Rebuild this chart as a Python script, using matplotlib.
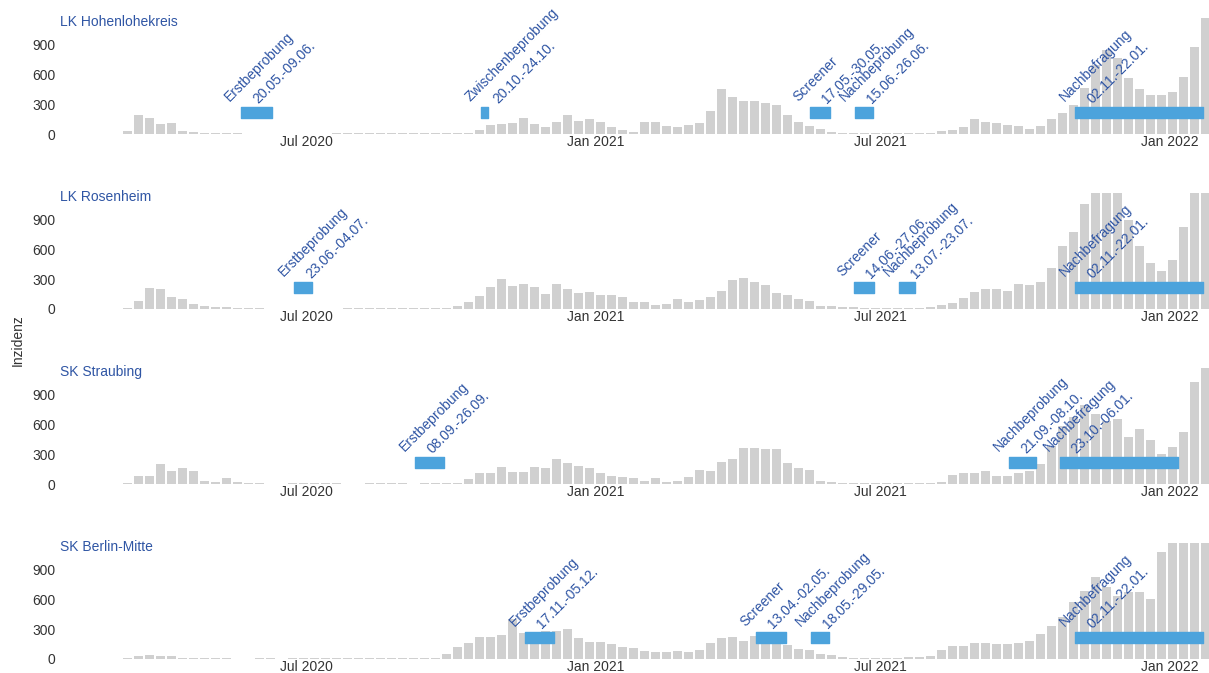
import matplotlib
matplotlib.use('Agg')
import matplotlib.pyplot as plt
import matplotlib.dates as mdates
import pandas as pd

plt.rcParams['font.family'] = ['Liberation Sans', 'DejaVu Sans']

# weekly incidence, one bar per week starting 09.03.2020
weeks = pd.date_range('2020-03-09', periods=99, freq='7D')

hohenlohe = [34, 194, 164, 102, 109, 27, 17, 8, 8, 8,
             6, 5, 4, 0, 0, 0, 0, 0, 0, 6,
             7, 7, 6, 6, 7, 8, 8, 8, 9, 8,
             10, 12, 44, 95, 102, 112, 164, 102, 68, 126,
             188, 136, 153, 119, 75, 41, 24, 126, 126, 85,
             75, 95, 112, 232, 450, 375, 330, 334, 317, 290,
             194, 119, 85, 51, 17, 9, 8, 7, 6, 8,
             9, 8, 8, 12, 27, 44, 68, 147, 119, 109,
             92, 78, 51, 85, 153, 215, 297, 467, 700, 843,
             767, 563, 454, 392, 392, 420, 573, 876, 1183]

rosenheim = [8, 84, 210, 205, 125, 100, 50, 34, 24, 17,
             10, 8, 6, 5, 0, 0, 0, 0, 0, 0,
             6, 7, 7, 6, 7, 8, 9, 8, 12, 15,
             34, 67, 135, 219, 303, 236, 253, 219, 152, 253,
             202, 162, 175, 145, 145, 118, 74, 67, 40, 50,
             101, 74, 91, 118, 185, 293, 313, 270, 243, 158,
             145, 101, 81, 34, 30, 24, 17, 10, 8, 8,
             7, 8, 10, 20, 40, 57, 111, 175, 202, 202,
             185, 253, 243, 270, 415, 640, 775, 1055, 1200, 1200,
             1200, 900, 640, 462, 380, 495, 825, 1200, 1200]

straubing = [8, 84, 84, 202, 135, 158, 135, 34, 24, 57,
             17, 8, 6, 0, 0, 6, 6, 6, 6, 6,
             0, 0, 7, 7, 6, 6, 0, 7, 7, 8,
             8, 50, 108, 108, 168, 118, 118, 168, 158, 253,
             209, 185, 158, 108, 78, 67, 61, 27, 61, 24,
             27, 74, 145, 135, 219, 253, 367, 360, 354, 354,
             212, 165, 145, 34, 24, 12, 8, 6, 6, 6,
             7, 8, 7, 12, 20, 94, 108, 111, 135, 78,
             78, 108, 135, 202, 388, 590, 674, 792, 708, 640,
             657, 472, 556, 448, 303, 370, 522, 1028, 1170]

berlin = [10, 30, 45, 35, 30, 15, 10, 8, 7, 7,
          0, 0, 7, 7, 0, 7, 7, 8, 7, 8,
          8, 8, 8, 8, 8, 9, 8, 8, 15, 50,
          118, 158, 226, 226, 243, 404, 260, 250, 280, 286,
          303, 212, 168, 168, 152, 125, 111, 84, 67, 74,
          84, 74, 91, 158, 209, 219, 178, 236, 202, 185,
          145, 101, 94, 50, 40, 24, 12, 12, 10, 12,
          14, 16, 16, 30, 94, 135, 135, 158, 158, 152,
          152, 158, 185, 253, 337, 421, 573, 690, 825, 725,
          640, 674, 674, 607, 1078, 1200, 1200, 1200, 1200]

districts = ['LK Hohenlohekreis', 'LK Rosenheim', 'SK Straubing', 'SK Berlin-Mitte']

# study phases: (name, start, end)
phases_hohenlohe = [('Erstbeprobung', '2020-05-20', '2020-06-09'),
                    ('Zwischenbeprobung', '2020-10-20', '2020-10-24'),
                    ('Screener', '2021-05-17', '2021-05-30'),
                    ('Nachbeprobung', '2021-06-15', '2021-06-26'),
                    ('Nachbefragung', '2021-11-02', '2022-01-22')]
phases_rosenheim = [('Erstbeprobung', '2020-06-23', '2020-07-04'),
                    ('Screener', '2021-06-14', '2021-06-27'),
                    ('Nachbeprobung', '2021-07-13', '2021-07-23'),
                    ('Nachbefragung', '2021-11-02', '2022-01-22')]
phases_straubing = [('Erstbeprobung', '2020-09-08', '2020-09-26'),
                    ('Nachbeprobung', '2021-09-21', '2021-10-08'),
                    ('Nachbefragung', '2021-10-23', '2022-01-06')]
phases_berlin = [('Erstbeprobung', '2020-11-17', '2020-12-05'),
                 ('Screener', '2021-04-13', '2021-05-02'),
                 ('Nachbeprobung', '2021-05-18', '2021-05-29'),
                 ('Nachbefragung', '2021-11-02', '2022-01-22')]

series = [hohenlohe, rosenheim, straubing, berlin]
phases = [phases_hohenlohe, phases_rosenheim, phases_straubing, phases_berlin]

bar_color = '#d0d0d0'
box_color = '#4ca3dc'
text_blue = '#2f55a4'
tick_color = '#333333'

W, H = 1209, 673
fig = plt.figure(figsize=(W / 100, H / 100), dpi=100)

for k in range(4):
    base = 134 + 175 * k
    ax = fig.add_axes([68 / W, 1 - base / H, (W - 68) / W, 116 / H])
    ax.bar(weeks, series[k], width=5.8, color=bar_color, zorder=1)

    for name, start, end in phases[k]:
        s = pd.Timestamp(start)
        e = pd.Timestamp(end)
        x0 = mdates.date2num(s)
        ax.broken_barh([(x0, (e - s).days)], (165, 110), color=box_color, zorder=3)
        ax.annotate(name, (x0, 275), xytext=(-11, 5), textcoords='offset pixels',
                    rotation=45, rotation_mode='anchor', ha='left', va='baseline',
                    color=text_blue, fontsize=10, zorder=4, annotation_clip=False)
        ax.annotate(f"{s:%d.%m.}-{e:%d.%m.}", (x0, 275), xytext=(17, 3),
                    textcoords='offset pixels', rotation=45, rotation_mode='anchor',
                    ha='left', va='baseline', color=text_blue, fontsize=10,
                    zorder=4, annotation_clip=False)

    ax.set_xlim(pd.Timestamp('2020-01-31'), pd.Timestamp('2022-01-26'))
    ax.set_ylim(0, 1170)
    ax.set_yticks([0, 300, 600, 900])
    ticks = pd.to_datetime(['2020-07-01', '2021-01-01', '2021-07-01', '2022-01-01'])
    ax.set_xticks(ticks)
    ax.set_xticklabels(['Jul 2020', 'Jan 2021', 'Jul 2021', 'Jan 2022'])
    ax.tick_params(length=0, labelsize=10, colors=tick_color)
    ax.tick_params(axis='x', pad=1)
    ax.tick_params(axis='y', pad=9)
    for sp in ax.spines.values():
        sp.set_visible(False)

    fig.text(60 / W, 1 - (22 + 175 * k) / H, districts[k], color=text_blue,
             fontsize=10, ha='left', va='center')

fig.text(18 / W, 1 - 340 / H, 'Inzidenz', rotation=90, ha='center', va='center',
         fontsize=10, color=tick_color)

fig.savefig('out.png', dpi=100)
